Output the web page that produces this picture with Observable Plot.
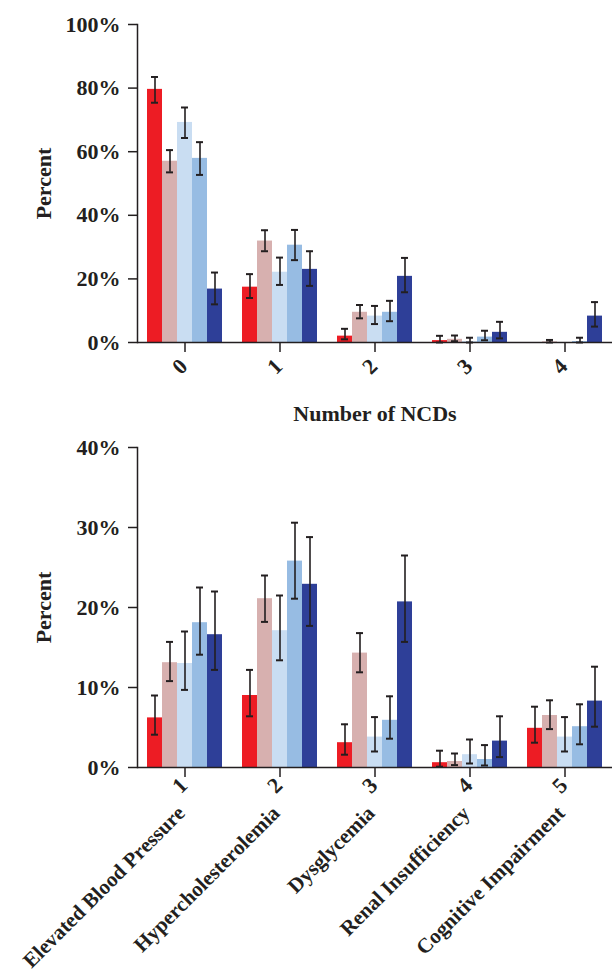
<!DOCTYPE html>
<html>
<head>
<meta charset="utf-8">
<script src="https://cdn.jsdelivr.net/npm/d3@7"></script>
<script src="https://cdn.jsdelivr.net/npm/@observablehq/plot@0.6"></script>
<style>
  body { margin: 0; background: #fff; }
  #chart svg { display: block; }
</style>
</head>
<body>
<div id="chart"></div>
<script>
// ---------- shared ----------
const seriesNames = ["Group A", "Group B", "Group C", "Group D", "Group E"];
const seriesColors = ["#ED1C24", "#D7B0AF", "#C9DDF2", "#97BCE3", "#2E3F98"];

// ---------- top chart: number of NCDs ----------
const ncdCounts = ["0", "1", "2", "3", "4"];
const ncdTicks = [0, 20, 40, 60, 80, 100];
const ncdValA = [79.6, 17.4, 2.0, 0.6, 0];
const ncdLoA  = [75.4, 14.0, 1.0, 0.0, null];
const ncdHiA  = [83.5, 21.5, 4.3, 2.1, null];
const ncdValB = [57.0, 31.9, 9.5, 1.0, 0.2];
const ncdLoB  = [53.5, 28.7, 7.6, 0.4, 0.0];
const ncdHiB  = [60.5, 35.3, 11.8, 2.2, 0.8];
const ncdValC = [69.2, 22.1, 8.3, 0.3, 0];
const ncdLoC  = [64.3, 18.1, 5.8, 0.0, null];
const ncdHiC  = [73.9, 26.7, 11.5, 1.5, null];
const ncdValD = [57.9, 30.6, 9.5, 1.7, 0.3];
const ncdLoD  = [52.7, 25.9, 6.7, 0.7, 0.0];
const ncdHiD  = [63.0, 35.4, 13.1, 3.7, 1.5];
const ncdValE = [16.8, 23.0, 20.8, 3.2, 8.3];
const ncdLoE  = [12.0, 17.8, 15.8, 1.3, 5.0];
const ncdHiE  = [22.0, 28.7, 26.6, 6.5, 12.7];

// ---------- bottom chart: individual NCDs ----------
const ncdTypeNums = ["1", "2", "3", "4", "5"];
const ncdTypeNames = ["Elevated Blood Pressure", "Hypercholesterolemia", "Dysglycemia", "Renal Insufficiency", "Cognitive Impairment"];
const typeTicks = [0, 10, 20, 30, 40];
const typeValA = [6.2, 9.0, 3.1, 0.6, 4.9];
const typeLoA  = [4.1, 6.4, 1.6, 0.1, 3.1];
const typeHiA  = [9.0, 12.2, 5.4, 2.1, 7.6];
const typeValB = [13.1, 21.1, 14.3, 0.75, 6.5];
const typeLoB  = [10.8, 18.2, 11.9, 0.3, 4.8];
const typeHiB  = [15.7, 24.0, 16.8, 1.75, 8.4];
const typeValC = [13.0, 17.1, 3.8, 1.6, 3.8];
const typeLoC  = [9.7, 13.4, 2.0, 0.5, 2.0];
const typeHiC  = [17.0, 21.5, 6.3, 3.5, 6.3];
const typeValD = [18.1, 25.8, 5.9, 1.0, 5.1];
const typeLoD  = [14.1, 21.1, 3.6, 0.25, 2.9];
const typeHiD  = [22.5, 30.6, 8.9, 2.8, 7.9];
const typeValE = [16.6, 22.9, 20.7, 3.3, 8.3];
const typeLoE  = [12.2, 17.7, 15.7, 1.3, 5.1];
const typeHiE  = [22.0, 28.8, 26.5, 6.4, 12.6];

// ---------- build tables ----------
function buildRows(groups, vals, los, his) {
  const rows = [];
  groups.forEach((g, gi) => {
    seriesNames.forEach((s, si) => {
      rows.push({group: g, series: s, value: vals[si][gi], lo: los[si][gi], hi: his[si][gi]});
    });
  });
  return rows;
}
const ncdRows = buildRows(ncdCounts,
  [ncdValA, ncdValB, ncdValC, ncdValD, ncdValE],
  [ncdLoA, ncdLoB, ncdLoC, ncdLoD, ncdLoE],
  [ncdHiA, ncdHiB, ncdHiC, ncdHiD, ncdHiE]);
const typeRows = buildRows(ncdTypeNums,
  [typeValA, typeValB, typeValC, typeValD, typeValE],
  [typeLoA, typeLoB, typeLoC, typeLoD, typeLoE],
  [typeHiA, typeHiB, typeHiC, typeHiD, typeHiE]);

const ink = "#231F20";
const font = "'Liberation Serif', 'Times New Roman', serif";

function groupedBars({rows, groups, ticks, height, marginTop, marginBottom, xLabel, labelDy, extra = []}) {
  return Plot.plot({
    width: 615,
    height,
    marginLeft: 135,
    marginRight: 1,
    marginTop,
    marginBottom,
    style: {fontFamily: font, fontWeight: "bold", fontSize: "22px", color: ink, background: "#fff", overflow: "visible"},
    fx: {domain: groups, padding: 0},
    x: {domain: seriesNames, paddingInner: 0, paddingOuter: 0.5, axis: null},
    y: {domain: [ticks[0], ticks[ticks.length - 1]], axis: null},
    color: {domain: seriesNames, range: seriesColors},
    marks: [
      Plot.barY(rows, {fx: "group", x: "series", y: "value", fill: "series"}),
      Plot.ruleX(rows, {fx: "group", x: "series", y1: "lo", y2: "hi", stroke: ink, strokeWidth: 1.6}),
      Plot.tickY(rows, {fx: "group", x: "series", y: "lo", stroke: ink, strokeWidth: 2, insetLeft: 4, insetRight: 4}),
      Plot.tickY(rows, {fx: "group", x: "series", y: "hi", stroke: ink, strokeWidth: 2, insetLeft: 4, insetRight: 4}),
      Plot.ruleY([0], {stroke: ink, strokeWidth: 1.5}),
      Plot.frame({anchor: "left", facetAnchor: "left", stroke: ink, strokeWidth: 1.5}),
      Plot.axisY({ticks, tickFormat: d => d + "%", tickSize: 9, tickPadding: 8, strokeWidth: 1.5,
        label: "Percent", labelAnchor: "center", labelOffset: 102, labelArrow: "none"}),
      Plot.axisFx({anchor: "bottom", tickSize: 10, tickFormat: () => "", strokeWidth: 1.5,
        label: xLabel, labelAnchor: "center", labelOffset: 78}),
      Plot.text(groups, {fx: d => d, text: d => d, frameAnchor: "bottom", dy: labelDy, rotate: -45, fill: ink}),
      ...extra
    ]
  });
}

const topChart = groupedBars({
  rows: ncdRows, groups: ncdCounts, ticks: ncdTicks,
  height: 430, marginTop: 24, marginBottom: 88,
  xLabel: "Number of NCDs", labelDy: 29
});

const bottomChart = groupedBars({
  rows: typeRows, groups: ncdTypeNums, ticks: typeTicks,
  height: 546, marginTop: 17, marginBottom: 209,
  xLabel: null, labelDy: 23,
  extra: [
    Plot.text(ncdTypeNums.map((d, i) => i), {fx: i => ncdTypeNums[i], text: i => ncdTypeNames[i],
      frameAnchor: "bottom", dy: 47, dx: 1, rotate: -45, textAnchor: "end", fontSize: 21, fill: ink})
  ]
});

document.getElementById("chart").append(topChart, bottomChart);
</script>
</body>
</html>
